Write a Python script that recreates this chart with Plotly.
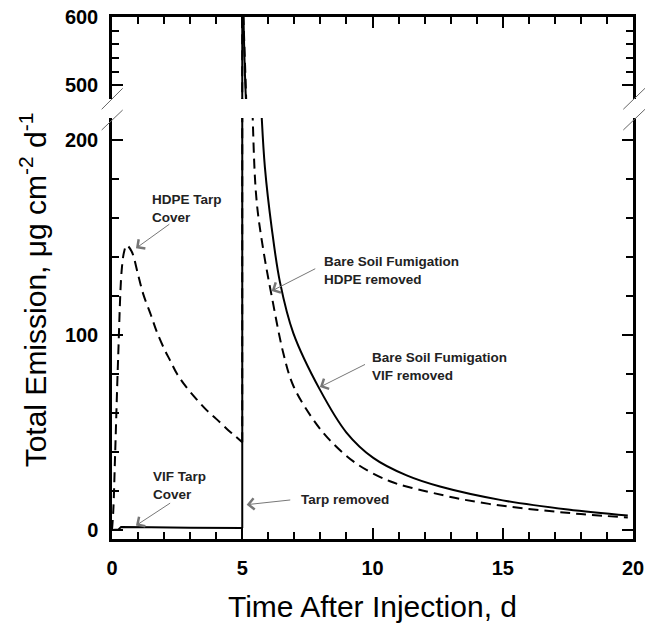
import plotly.graph_objects as go

# ---- data ----
# HDPE tarp cover period (dashed)
hdpe_cover_x = [0, 0.05, 0.12, 0.24, 0.37, 0.47, 0.56, 0.75, 1.0, 1.2, 1.5, 1.71, 2.0,
                2.23, 2.5, 2.87, 3.25, 3.63, 4.0, 4.4, 4.7, 5.0]
hdpe_cover_y = [0, 10, 39, 90, 133, 143, 146, 143, 131, 121, 110, 102, 93,
                87, 80, 73, 67, 61.5, 57, 52, 48.5, 45]
# bare soil after HDPE removed (dashed)
hdpe_bare_x = [5.0, 5.08, 5.15, 5.25, 5.4, 5.55, 5.81, 6.13, 6.58, 6.96, 7.66,
               8.37, 9.39, 10.67, 11.6, 12.33, 13.5, 15.0, 16.5, 18.0, 19.8]
hdpe_bare_y = [650, 560, 480, 330, 212, 169, 143.5, 120, 90.5, 74, 57.9,
               46, 34, 25, 21.3, 19.0, 15.6, 12.4, 10.1, 8.2, 6.4]

# VIF tarp cover period (solid)
vif_cover_x = [0, 0.25, 0.35, 0.6, 1.5, 3.0, 4.0, 5.0]
vif_cover_y = [0, 0.3, 1.6, 1.6, 1.4, 1.2, 1.1, 1.0]
# bare soil after VIF removed (solid)
vif_bare_x = [5.0, 5.14, 5.4, 5.75, 5.87, 6.13, 6.45, 6.96, 7.98, 9.0, 10.03,
              11.31, 12.59, 15.0, 17.5, 19.8]
vif_bare_y = [700, 480, 330, 211, 186, 155, 127, 101, 72, 50, 37,
              28.0, 22.3, 15.2, 10.5, 7.4]

x_ticks = [0, 5, 10, 15, 20]
y_low_ticks = [0, 100, 200]
y_high_ticks = [500, 600]

# annotation texts: (text, x, y) and arrows: (head_x, head_y, tail_x, tail_y)
labels = [
    ("HDPE Tarp<br>Cover", 1.46, 164.8),
    ("VIF Tarp<br>Cover", 1.49, 22.9),
    ("Tarp removed", 7.19, 15.5),
    ("Bare Soil Fumigation<br>HDPE removed", 8.05, 133.1),
    ("Bare Soil Fumigation<br>VIF removed", 9.90, 83.8),
]
arrows = [
    (0.92, 144.5, 2.26, 157.4),
    (0.92, 2.3, 2.29, 14.3),
    (5.17, 13.0, 6.9, 15.5),
    (6.13, 122.6, 7.86, 134.4),
    (7.98, 73.3, 9.77, 85.3),
]

FONT = "Liberation Sans, Arial, sans-serif"
DASH = "10px,6px"

fig = go.Figure()


def add_line(xs, ys, dash, shape):
    for xa, ya in (("x", "y"), ("x2", "y2")):
        fig.add_trace(go.Scatter(x=xs, y=ys, mode="lines", xaxis=xa, yaxis=ya,
                                 line=dict(color="black", width=2, dash=dash,
                                           shape=shape, smoothing=1.0),
                                 showlegend=False, hoverinfo="skip"))


# covered periods
add_line(hdpe_cover_x, hdpe_cover_y, DASH, "spline")
add_line(vif_cover_x, vif_cover_y, "solid", "linear")
# tarp removal jumps at day 5
add_line([hdpe_cover_x[-1], hdpe_bare_x[0]], [hdpe_cover_y[-1], hdpe_bare_y[0]], DASH, "linear")
add_line([vif_cover_x[-1], vif_bare_x[0]], [vif_cover_y[-1], vif_bare_y[0]], "solid", "linear")
# bare soil periods
add_line(hdpe_bare_x, hdpe_bare_y, DASH, "spline")
add_line(vif_bare_x, vif_bare_y, "solid", "spline")

tickfont = dict(family=FONT, size=20, color="black", weight="bold")
common_y = dict(ticks="inside", ticklen=11, tickwidth=2, tickcolor="black",
                showline=True, linewidth=2.5, linecolor="black", mirror="ticks",
                showgrid=False, zeroline=False, tickfont=tickfont,
                ticklabelstandoff=7, automargin=False,
                minor=dict(dtick=20, ticks="inside", ticklen=7, tickwidth=2,
                           tickcolor="black"))
common_x = dict(range=[0, 20], ticks="inside", ticklen=11, tickwidth=2,
                tickcolor="black", showline=True, linewidth=2.5, linecolor="black",
                showgrid=False, zeroline=False, tickvals=x_ticks, automargin=False,
                minor=dict(dtick=1, tick0=0, ticks="inside", ticklen=7, tickwidth=2,
                           tickcolor="black"))

fig.update_layout(
    width=648, height=624,
    margin=dict(l=112, r=15, t=17, b=85, autoexpand=False),
    paper_bgcolor="white", plot_bgcolor="white",
    showlegend=False,
    xaxis=dict(domain=[0, 1], anchor="y", tickfont=tickfont, ticklabelstandoff=9,
               title=dict(text="Time After Injection, d", standoff=19,
                          font=dict(family=FONT, size=30, color="black")),
               **common_x),
    xaxis2=dict(domain=[0, 1], anchor="y2", side="top", matches="x",
                showticklabels=False, **common_x),
    yaxis=dict(domain=[0, 0.8065], range=[-4.6, 211.3], tickvals=y_low_ticks,
               anchor="x", **common_y),
    yaxis2=dict(domain=[0.8429, 1], range=[480, 600], tickvals=y_high_ticks,
                anchor="x2", **common_y),
)

ann = []
for text, tx, ty in labels:
    ann.append(dict(text=text, x=tx, y=ty, xref="x", yref="y", xanchor="left",
                    yanchor="middle", align="left", showarrow=False,
                    font=dict(family=FONT, size=13.5, color="#222", weight="bold")))
for hx, hy, tx, ty in arrows:
    ann.append(dict(text="", x=hx, y=hy, ax=tx, ay=ty, xref="x", yref="y",
                    axref="x", ayref="y", showarrow=True, arrowhead=4,
                    arrowsize=2.2, arrowwidth=1, arrowcolor="#777"))
ann.append(dict(text="Total Emission, μg cm<sup>-2</sup> d<sup>-1</sup>",
                xref="paper", yref="paper", x=-0.150, y=0.478, textangle=-90,
                xanchor="center", yanchor="middle", showarrow=False,
                font=dict(family=FONT, size=30, color="black")))
fig.update_layout(annotations=ann)

# axis-break marks
breaks = [
    (-0.0198, 0.8232, 0.0205, 0.8634),
    (-0.0198, 0.7835, 0.0205, 0.8218),
    (0.9814, 0.8232, 1.0230, 0.8634),
    (0.9814, 0.7835, 1.0230, 0.8232),
]
for x0, y0, x1, y1 in breaks:
    fig.add_shape(type="line", xref="paper", yref="paper", x0=x0, y0=y0, x1=x1, y1=y1,
                  line=dict(color="#666", width=1))

# remove the browser's default page margin so the figure sits at the window origin
fig.write_html("out.html", config={"displayModeBar": False},
               post_script="document.body.style.margin='0';")
